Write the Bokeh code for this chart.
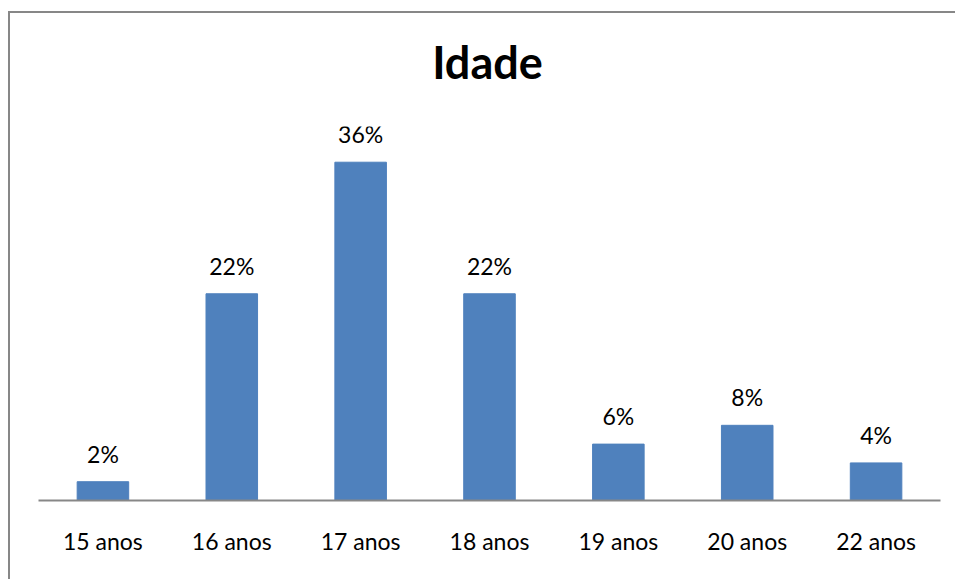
from bokeh.plotting import figure
from bokeh.models import ColumnDataSource, Range1d, FactorRange, Div
from bokeh.layouts import column
from bokeh.core.properties import value
from bokeh.embed import file_html
from bokeh.resources import INLINE

categories = ["15 anos", "16 anos", "17 anos", "18 anos", "19 anos", "20 anos", "22 anos"]
shares = [0.02, 0.22, 0.36, 0.22, 0.06, 0.08, 0.04]
labels = ["2%", "22%", "36%", "22%", "6%", "8%", "4%"]
title_text = "Idade"

source = ColumnDataSource(dict(cat=categories, val=shares, lab=labels))

head = Div(
    text=f'<div style="width:945px;text-align:center;font-family:Lato;font-size:45px;'
         f'font-weight:bold;line-height:45px;padding-top:22px;color:black;">{title_text}</div>',
    width=945, height=80,
)

p = figure(
    x_range=FactorRange(*categories, range_padding=0),
    y_range=Range1d(0, 0.398),
    width=945, height=476,
    output_backend="svg", toolbar_location=None,
    min_border_left=28, min_border_right=15,
    min_border_top=23, min_border_bottom=79,
)
p.title.text = ""

p.vbar(x="cat", top="val", width=0.4, source=source, fill_color="#4F81BD", line_color="#4F81BD")
p.text(x="cat", y="val", text="lab", source=source, text_align="center",
       text_baseline="alphabetic", y_offset=-28, text_font=value("Lato"),
       text_font_size="23px", text_color="black")

p.yaxis.visible = False
p.xgrid.visible = False
p.ygrid.visible = False
p.outline_line_color = None
p.xaxis.axis_line_color = "#878787"
p.xaxis.axis_line_width = 2
p.xaxis.major_tick_line_color = None
p.xaxis.minor_tick_line_color = None
p.xaxis.major_label_standoff = 20
p.xaxis.major_label_text_font = "Lato"
p.xaxis.major_label_text_font_size = "23px"
p.xaxis.major_label_text_color = "black"

layout = column(head, p, spacing=0)
layout.styles = {"border-left": "2px solid #878787", "border-top": "2px solid #878787",
                 "margin-top": "11px", "margin-left": "8px"}

open("out.html", "w").write(file_html(layout, INLINE))
